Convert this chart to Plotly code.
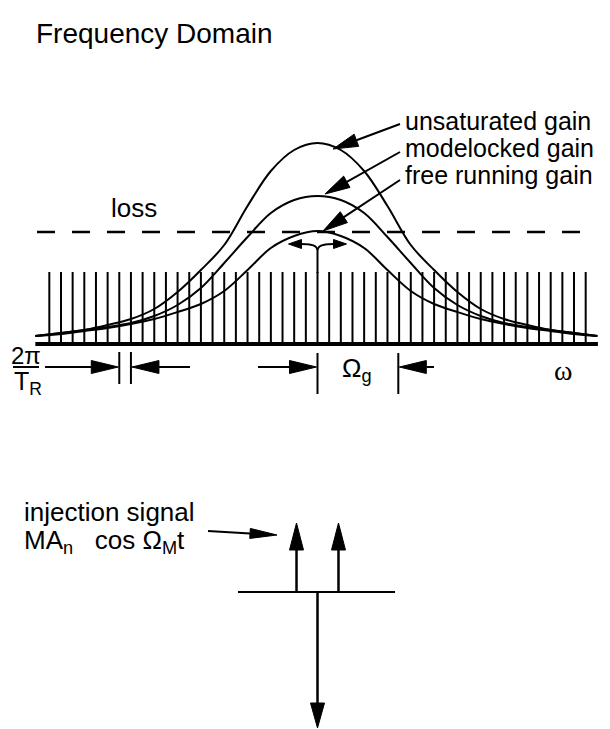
import math
import plotly.graph_objects as go

# ---------------- data ----------------
# longitudinal mode indices of the comb (in units of the mode spacing 2π/T_R)
mode_index = list(range(-23, 24))
comb_height = 72

# gain curves sampled across the frequency axis (x in mode-spacing units)
gain_x = [-24.2, -22, -20, -18, -16, -14, -12, -10, -8, -6, -4, -2, 0,
          2, 4, 6, 8, 10, 12, 14, 16, 18, 20, 22, 24.0]
unsaturated_gain = [8, 11, 14, 19, 25, 35, 52, 74, 99, 138, 173, 194, 201,
                    194, 173, 138, 99, 74, 52, 35, 25, 19, 14, 11, 8]
modelocked_gain = [8, 11, 14, 17, 21, 28, 39, 56, 81, 107, 131, 144, 148,
                   144, 131, 107, 81, 56, 39, 28, 21, 17, 14, 11, 8]
free_running_gain = [8, 10, 13, 16, 20, 25, 32, 40, 53, 74, 96, 108, 113,
                     108, 96, 74, 53, 40, 32, 25, 20, 16, 13, 10, 8]
loss_level = 112

# frequency axis extent and markers
axis_start, axis_end = -24.2, 24.05
spacing_marks = [-17, -16]          # two neighbouring modes -> 2π/T_R
gain_bandwidth = [0, 6.93]          # Ω_g markers

# injection signal (lower diagram)
sideband_offsets = [-1.8, 1.8]      # ±Ω_M
sideband_amp = 69
carrier_amp = -136
injection_axis = [-6.82, 6.65]

# ---------------- geometry of the canvas ----------------
W, H = 610, 729
X0_PX, DX_PX, Y0_PX = 317.5, 11.66, 344
LOWER_BASE = -248                   # level of the lower diagram's axis
ROW = 367                           # pixel row of the 2π/T_R and Ω_g arrows


def px(x):
    return X0_PX + x * DX_PX


def py(y):
    return Y0_PX - y


def ux(p):
    return (p - X0_PX) / DX_PX


def uy(p):
    return Y0_PX - p


FONT = "Liberation Sans, Arial, Helvetica, sans-serif"
BLACK = "#000000"

fig = go.Figure()

# comb of longitudinal modes
cx, cy = [], []
for m in mode_index:
    cx += [m, m, None]
    cy += [0, comb_height, None]
fig.add_trace(go.Scatter(x=cx, y=cy, mode="lines",
                         line=dict(color=BLACK, width=2), hoverinfo="skip"))

# frequency axis
fig.add_trace(go.Scatter(x=[axis_start, axis_end], y=[0, 0], mode="lines",
                         line=dict(color=BLACK, width=4), hoverinfo="skip"))

# gain curves
for g in (unsaturated_gain, modelocked_gain, free_running_gain):
    fig.add_trace(go.Scatter(x=gain_x, y=g, mode="lines",
                             line=dict(color=BLACK, width=2, shape="spline",
                                       smoothing=1.0),
                             hoverinfo="skip"))

# loss line
fig.add_trace(go.Scatter(x=[ux(37), ux(584)], y=[loss_level, loss_level],
                         mode="lines",
                         line=dict(color=BLACK, width=2.5, dash="18px,17px"),
                         hoverinfo="skip"))

shapes = []


def seg(p0, p1, w=2):
    shapes.append(dict(type="line", xref="x", yref="y",
                       x0=ux(p0[0]), y0=uy(p0[1]), x1=ux(p1[0]), y1=uy(p1[1]),
                       line=dict(color=BLACK, width=w)))


def head(tip, frm, L, Wd):
    """filled arrow head at pixel point tip, pointing away from pixel point frm"""
    dx, dy = tip[0] - frm[0], tip[1] - frm[1]
    n = math.hypot(dx, dy)
    dx, dy = dx / n, dy / n
    bx, by = tip[0] - dx * L, tip[1] - dy * L
    nx, ny = -dy, dx
    pts = [tip, (bx + nx * Wd / 2, by + ny * Wd / 2),
           (bx - nx * Wd / 2, by - ny * Wd / 2)]
    path = "M " + " L ".join(f"{ux(a):.4f},{uy(b):.4f}" for a, b in pts) + " Z"
    shapes.append(dict(type="path", xref="x", yref="y", path=path,
                       fillcolor=BLACK, line=dict(color=BLACK, width=1)))
    return (bx, by)


def arrow(frm, tip, L=26, Wd=13, w=2):
    base = head(tip, frm, L, Wd)
    seg(frm, base, w)


# arrows from labels to curves
arrow((400, 124), (333, 149), L=25, Wd=13)
arrow((400, 152), (325, 194), L=25, Wd=13)
arrow((400, 180), (323, 231), L=25, Wd=13)

# free running "Y" arrows (mode pulling)
stem_top = 250
seg((px(0), py(comb_height) + 1), (px(0), stem_top))
for s in (-1, 1):
    pts = [(px(0), stem_top), (px(0) + s * 2, 246.5), (px(0) + s * 8, 244.5),
           (px(0) + s * 17, 244)]
    fig.add_trace(go.Scatter(x=[ux(a) for a, b in pts], y=[uy(b) for a, b in pts],
                             mode="lines", line=dict(color=BLACK, width=2, shape="spline"),
                             hoverinfo="skip"))
    head((px(0) + s * 29, 244), (px(0), 244), 13, 9)

# 2π/T_R markers
for m in spacing_marks:
    seg((px(m), 352), (px(m), 384), 2)
arrow((45, ROW), (px(spacing_marks[0]) - 1, ROW), 27, 13)
arrow((190, ROW), (px(spacing_marks[1]) + 1, ROW), 27, 13)
shapes.append(dict(type="line", xref="paper", yref="paper",
                   x0=13 / W, x1=39 / W, y0=1 - ROW / H, y1=1 - ROW / H,
                   line=dict(color=BLACK, width=2)))

# Ω_g markers
for g in gain_bandwidth:
    seg((px(g), 353), (px(g), 394), 2)
arrow((258, ROW), (px(gain_bandwidth[0]) - 1, ROW), 27, 13)
arrow((434, ROW), (px(gain_bandwidth[1]) + 1, ROW), 27, 13)

# lower diagram: injection signal
seg((px(injection_axis[0]), py(LOWER_BASE)), (px(injection_axis[1]), py(LOWER_BASE)), 2)
for o in sideband_offsets:
    arrow((px(o), py(LOWER_BASE)), (px(o), py(LOWER_BASE + sideband_amp)), 27, 14, 2.5)
arrow((px(0), py(LOWER_BASE)), (px(0), py(LOWER_BASE + carrier_amp)), 25, 14, 2.5)
arrow((208, 531), (277, 535), 27, 10)

# ---------------- text ----------------
ann = []


def text(s, x, y, size=26, xanchor="left"):
    ann.append(dict(text=s, x=x / W, y=1 - y / H, xref="paper", yref="paper",
                    xanchor=xanchor, yanchor="middle", showarrow=False,
                    font=dict(family=FONT, size=size, color=BLACK)))


text("Frequency Domain", 34, 34, 28)
text("unsaturated gain", 403, 121, 25)
text("modelocked gain", 403, 148, 25)
text("free running gain", 403, 175, 25)
text("loss", 109, 208)
text("2π", 26, 355, 24, "center")
text("T<sub>R</sub>", 12, 383, 25)
text("Ω<sub>g</sub>", 340, ROW + 2, 26)
ann.append(dict(text="ω", x=563 / W, y=1 - 370 / H, xref="paper", yref="paper",
                xanchor="center", yanchor="middle", showarrow=False,
                font=dict(family="Liberation Serif, Times New Roman, serif", size=28,
                          color=BLACK)))
text("injection signal", 22, 512)
text("MA<sub>n</sub>\u00a0\u00a0\u00a0cos\u00a0Ω<sub>M</sub>t", 22, 541)

fig.update_layout(
    width=W, height=H, margin=dict(l=0, r=0, t=0, b=0),
    paper_bgcolor="white", plot_bgcolor="white", showlegend=False,
    xaxis=dict(range=[ux(0), ux(W)], visible=False, fixedrange=True),
    yaxis=dict(range=[uy(H), uy(0)], visible=False, fixedrange=True),
    shapes=shapes, annotations=ann,
)

fig.write_html("out.html")
